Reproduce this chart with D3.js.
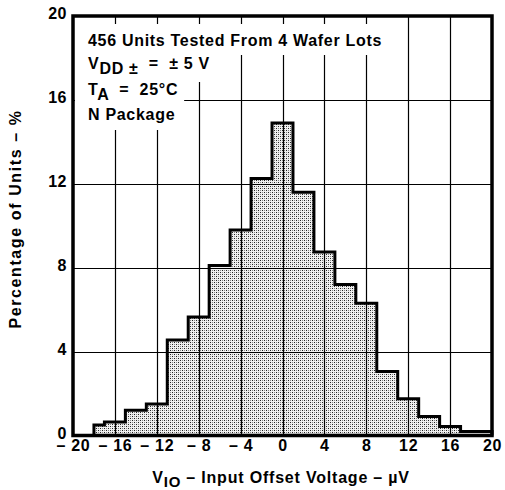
<!DOCTYPE html>
<html>
<head>
<meta charset="utf-8">
<script src="https://cdn.jsdelivr.net/npm/d3@7"></script>
<style>
  body { margin: 0; background: #fff; }
  svg text { font-family: "Liberation Sans", Arial, sans-serif; font-weight: bold; fill: #000; white-space: pre; }
</style>
</head>
<body>
<svg id="chart" width="505" height="490"></svg>
<script>
// bin edges (µV) and percentage of units in each bin
let bin_edges = [-18, -17, -15, -13, -11, -9, -7, -5, -3, -1, 1, 3, 5, 7, 9, 11, 13, 15, 17, 20];
let bin_percent = [0.5, 0.64, 1.2, 1.5, 4.55, 5.65, 8.1, 9.8, 12.25, 14.9, 11.6, 8.75, 7.2, 6.3, 3.05, 1.75, 0.9, 0.43, 0.19];

let x_ticks = [-20, -16, -12, -8, -4, 0, 4, 8, 12, 16, 20];
let y_ticks = [0, 4, 8, 12, 16, 20];

let svg = d3.select("#chart");

let plot = { left: 73, right: 492, top: 16, bottom: 435.5 };

let scale_x = d3.scaleLinear().domain([-20, 20]).range([plot.left, plot.right]);
let scale_y = d3.scaleLinear().domain([0, 20]).range([plot.bottom, plot.top]);

// stipple fill
let defs = svg.append("defs");
let pat = defs.append("pattern")
  .attr("id", "dots")
  .attr("patternUnits", "userSpaceOnUse")
  .attr("width", 4)
  .attr("height", 4);
pat.append("rect").attr("width", 4).attr("height", 4).attr("fill", "#f0f0f0");
pat.append("rect").attr("x", 0).attr("y", 0).attr("width", 1).attr("height", 1).attr("fill", "#222");
pat.append("rect").attr("x", 2).attr("y", 2).attr("width", 1).attr("height", 1).attr("fill", "#222");
pat.append("rect").attr("x", 2).attr("y", 0).attr("width", 1).attr("height", 1).attr("fill", "#888");
pat.append("rect").attr("x", 0).attr("y", 2).attr("width", 1).attr("height", 1).attr("fill", "#888");

// histogram points
let pts = [[bin_edges[0], 0]];
bin_percent.forEach((v, i) => pts.push([bin_edges[i], v]));
pts.push([bin_edges[bin_edges.length - 1], bin_percent[bin_percent.length - 1]]);
pts.push([bin_edges[bin_edges.length - 1], 0]);

let step_line = d3.line()
  .x(d => scale_x(d[0]))
  .y(d => scale_y(d[1]))
  .curve(d3.curveStepAfter);

svg.append("path")
  .attr("d", step_line(pts) + "Z")
  .attr("fill", "url(#dots)")
  .attr("stroke", "none");

// grid
let grid = svg.append("g").attr("stroke", "#000").attr("stroke-width", 1.2);
grid.selectAll("line.v")
  .data(x_ticks.slice(1, -1))
  .join("line")
  .attr("x1", d => Math.round(scale_x(d)) + 0.5)
  .attr("x2", d => Math.round(scale_x(d)) + 0.5)
  .attr("y1", plot.top)
  .attr("y2", plot.bottom);
grid.selectAll("line.h")
  .data(y_ticks.slice(1, -1))
  .join("line")
  .attr("x1", plot.left)
  .attr("x2", plot.right)
  .attr("y1", d => Math.round(scale_y(d)) + 0.5)
  .attr("y2", d => Math.round(scale_y(d)) + 0.5);

// outline of the histogram
svg.append("path")
  .attr("d", step_line(pts))
  .attr("fill", "none")
  .attr("stroke", "#000")
  .attr("stroke-width", 3)
  .attr("stroke-linejoin", "miter");

// note block with white backing
let note = svg.append("g")
  .style("font-size", "16px")
  .style("letter-spacing", "0.7px");
let note_lines = [];
note_lines.push(note.append("text").attr("x", 88).attr("y", 46)
  .text("456 Units Tested From 4 Wafer Lots"));

let t2 = note.append("text").attr("x", 88).attr("y", 69);
t2.append("tspan").text("V");
t2.append("tspan").attr("dy", 5).text("DD ±  ");
t2.append("tspan").attr("dy", -5).text("=  ± 5 V");
note_lines.push(t2);

let t3 = note.append("text").attr("x", 88).attr("y", 95);
t3.append("tspan").text("T");
t3.append("tspan").attr("dy", 5).text("A");
t3.append("tspan").attr("dy", -5).text("  =  25°C");
note_lines.push(t3);

note_lines.push(note.append("text").attr("x", 88).attr("y", 120)
  .text("N Package"));

let tops = [24, 55, 82, 107];
let bottoms = [55, 82, 107, 130];
note_lines.forEach((t, i) => {
  let bb = t.node().getBBox();
  note.insert("rect", "text")
    .attr("x", plot.left + 2)
    .attr("y", tops[i])
    .attr("width", bb.x + bb.width + 6 - plot.left - 2)
    .attr("height", bottoms[i] - tops[i])
    .attr("fill", "#fff");
});

// frame
svg.append("rect")
  .attr("x", plot.left)
  .attr("y", plot.top)
  .attr("width", plot.right - plot.left)
  .attr("height", plot.bottom - plot.top)
  .attr("fill", "none")
  .attr("stroke", "#000")
  .attr("stroke-width", 3.5);

// axes (labels only)
let axis_x = d3.axisBottom(scale_x)
  .tickValues(x_ticks)
  .tickSize(0)
  .tickPadding(0)
  .tickFormat(d => d < 0 ? "– " + Math.abs(d) : d);
let gx = svg.append("g")
  .attr("transform", "translate(0," + plot.bottom + ")")
  .call(axis_x);
gx.select(".domain").remove();
gx.selectAll("text")
  .attr("dy", null)
  .attr("y", 15.5)
  .style("font-size", "16px")
  .style("letter-spacing", "0.7px")
  .style("font-family", null);

let axis_y = d3.axisLeft(scale_y)
  .tickValues(y_ticks)
  .tickSize(0)
  .tickPadding(6);
let gy = svg.append("g")
  .attr("transform", "translate(" + plot.left + ",-2.5)")
  .call(axis_y);
gy.select(".domain").remove();
gy.selectAll("text")
  .attr("dy", "0.32em")
  .style("font-size", "16px")
  .style("letter-spacing", "0.5px")
  .style("font-family", null);

// axis titles
let xt = svg.append("text")
  .attr("x", 281)
  .attr("y", 483)
  .attr("text-anchor", "middle")
  .style("font-size", "16px")
  .style("letter-spacing", "0.8px");
xt.append("tspan").text("V");
xt.append("tspan").attr("dy", 4).style("font-size", "15px").text("IO");
xt.append("tspan").attr("dy", -4).text(" – Input Offset Voltage – µV");

svg.append("text")
  .attr("transform", "translate(21,219) rotate(-90)")
  .attr("text-anchor", "middle")
  .style("font-size", "16px")
  .style("letter-spacing", "1.6px")
  .text("Percentage of Units – %");
</script>
</body>
</html>
